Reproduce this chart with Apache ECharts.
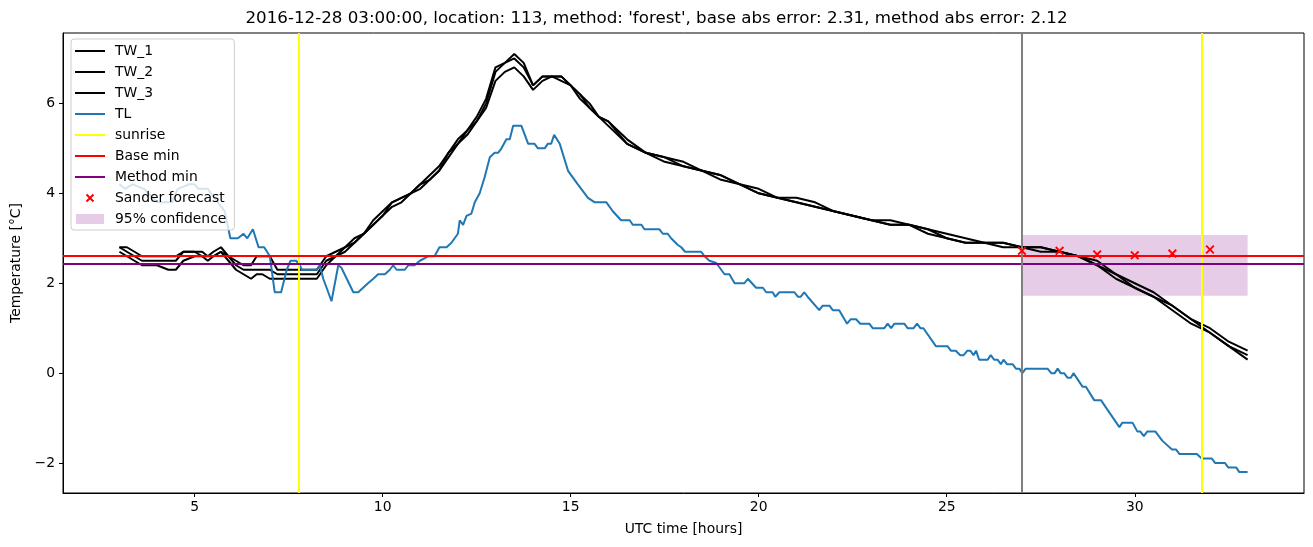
<!DOCTYPE html>
<html>
<head>
<meta charset="utf-8">
<script src="https://cdn.jsdelivr.net/npm/echarts@6/dist/echarts.min.js"></script>
<style>html,body{margin:0;padding:0;background:#fff;}#c{width:1313px;height:547px;}</style>
</head>
<body>
<div id="c"></div>
<script>
// ---- data ----
const titleText = "2016-12-28 03:00:00, location: 113, method: 'forest', base abs error: 2.31, method abs error: 2.12";
const twHours = [3.0,3.2,3.4,3.6,4.0,4.3,4.5,4.7,5.0,5.2,5.35,5.5,5.7,5.9,6.1,6.3,6.5,6.65,6.8,7.0,7.2,7.5,8.0,8.25,8.5,8.75,9.0,9.25,9.5,9.75,10.0,10.25,10.5,10.75,11.0,11.25,11.5,11.75,12.0,12.25,12.5,12.75,13.0,13.25,13.5,13.75,14.0,14.25,14.5,14.75,15.0,15.25,15.5,15.75,16.0,16.5,17.0,17.5,18.0,18.5,19.0,19.5,20.0,20.5,21.0,21.5,22.0,22.5,23.0,23.5,24.0,24.5,25.0,25.5,26.0,26.5,27.0,27.5,28.0,28.5,29.0,29.5,30.0,30.5,31.0,31.5,32.0,32.5,33.0];
const tw1 = [2.8,2.8,2.7,2.6,2.6,2.6,2.6,2.7,2.7,2.7,2.6,2.7,2.8,2.6,2.5,2.4,2.4,2.6,2.6,2.6,2.3,2.3,2.3,2.3,2.6,2.7,2.8,3.0,3.1,3.4,3.6,3.8,3.9,4.0,4.2,4.4,4.6,4.9,5.2,5.4,5.7,6.1,6.8,6.9,7.1,6.9,6.4,6.6,6.6,6.6,6.4,6.2,6.0,5.7,5.6,5.2,4.9,4.8,4.7,4.5,4.4,4.2,4.1,3.9,3.9,3.8,3.6,3.5,3.4,3.4,3.3,3.2,3.1,3.0,2.9,2.9,2.8,2.8,2.7,2.6,2.5,2.2,2.0,1.8,1.5,1.2,1.0,0.7,0.5];
const tw2 = [2.8,2.7,2.6,2.5,2.5,2.5,2.5,2.7,2.7,2.6,2.5,2.6,2.7,2.6,2.4,2.3,2.3,2.3,2.3,2.3,2.2,2.2,2.2,2.2,2.5,2.6,2.8,2.9,3.1,3.3,3.5,3.8,3.9,4.0,4.2,4.3,4.5,4.9,5.1,5.4,5.6,6.0,6.7,6.9,7.0,6.8,6.4,6.6,6.6,6.6,6.4,6.2,5.9,5.7,5.6,5.1,4.9,4.8,4.6,4.5,4.4,4.2,4.0,3.9,3.8,3.7,3.6,3.5,3.4,3.3,3.3,3.2,3.0,2.9,2.9,2.9,2.8,2.8,2.7,2.6,2.4,2.2,1.9,1.7,1.5,1.2,0.9,0.6,0.4];
const tw3 = [2.7,2.6,2.5,2.4,2.4,2.3,2.3,2.5,2.6,2.6,2.6,2.6,2.7,2.5,2.3,2.2,2.1,2.2,2.2,2.1,2.1,2.1,2.1,2.1,2.4,2.6,2.7,2.9,3.1,3.3,3.5,3.7,3.8,4.0,4.1,4.3,4.5,4.8,5.1,5.3,5.6,5.9,6.5,6.7,6.8,6.6,6.3,6.5,6.6,6.5,6.4,6.1,5.9,5.7,5.5,5.1,4.9,4.7,4.6,4.5,4.3,4.2,4.0,3.9,3.8,3.7,3.6,3.5,3.4,3.3,3.3,3.1,3.0,2.9,2.9,2.8,2.8,2.7,2.7,2.6,2.4,2.1,1.9,1.7,1.4,1.1,0.9,0.6,0.3];
const tlHours = [3.0,3.15,3.35,3.65,4.0,4.1,4.4,4.55,4.85,5.0,5.1,5.35,5.8,5.95,6.15,6.3,6.4,6.55,6.7,6.85,7.0,7.13,7.3,7.45,7.55,7.7,7.8,7.85,8.24,8.33,8.42,8.51,8.64,8.82,8.9,9.22,9.35,9.48,9.61,9.75,9.88,10.06,10.19,10.28,10.37,10.59,10.68,10.85,10.99,11.21,11.38,11.51,11.7,11.83,12.0,12.05,12.14,12.23,12.36,12.45,12.58,12.71,12.85,12.98,13.07,13.16,13.29,13.38,13.47,13.69,13.87,14.04,14.13,14.31,14.39,14.48,14.56,14.71,14.93,15.19,15.46,15.64,15.95,16.12,16.34,16.57,16.65,16.88,16.96,17.36,17.45,17.58,17.67,17.85,17.94,18.04,18.47,18.56,18.69,18.87,18.96,19.09,19.22,19.36,19.62,19.71,19.93,20.11,20.2,20.37,20.44,20.55,20.95,21.04,21.12,21.21,21.3,21.35,21.61,21.7,21.88,21.97,22.14,22.35,22.45,22.59,22.7,22.94,23.03,23.34,23.43,23.52,23.61,23.87,23.96,24.12,24.21,24.3,24.38,24.71,25.02,25.11,25.24,25.36,25.45,25.55,25.63,25.71,25.78,25.86,26.09,26.17,26.26,26.35,26.44,26.51,26.6,26.75,26.84,26.93,27.01,27.1,27.68,27.78,27.87,27.95,28.03,28.12,28.21,28.3,28.37,28.61,28.7,28.92,29.1,29.59,29.67,29.94,30.07,30.15,30.24,30.33,30.55,30.73,30.86,30.99,31.1,31.19,31.65,31.78,32.05,32.14,32.4,32.49,32.7,32.78,33.0];
const tlValues = [4.2,4.1,4.2,4.1,3.8,3.8,3.8,4.1,4.2,4.2,4.1,4.1,3.6,3.0,3.0,3.1,3.0,3.2,2.8,2.8,2.6,1.8,1.8,2.3,2.5,2.5,2.4,2.3,2.3,2.4,2.1,1.9,1.6,2.4,2.35,1.8,1.8,1.9,2.0,2.1,2.2,2.2,2.3,2.4,2.3,2.3,2.4,2.4,2.5,2.6,2.6,2.8,2.8,2.9,3.1,3.4,3.3,3.5,3.55,3.8,4.0,4.35,4.8,4.9,4.9,5.0,5.2,5.2,5.5,5.5,5.1,5.1,5.0,5.0,5.1,5.1,5.3,5.1,4.5,4.2,3.9,3.8,3.8,3.6,3.4,3.4,3.3,3.3,3.2,3.2,3.1,3.1,3.0,2.85,2.8,2.7,2.7,2.6,2.5,2.45,2.35,2.2,2.2,2.0,2.0,2.1,1.9,1.9,1.8,1.8,1.7,1.8,1.8,1.7,1.7,1.8,1.7,1.7,1.4,1.5,1.5,1.4,1.4,1.1,1.2,1.2,1.1,1.1,1.0,1.0,1.1,1.0,1.1,1.1,1.0,1.0,1.1,1.0,1.0,0.6,0.6,0.5,0.5,0.4,0.4,0.5,0.5,0.4,0.5,0.3,0.3,0.4,0.3,0.3,0.2,0.3,0.2,0.2,0.1,0.1,0.0,0.1,0.1,0.0,0.0,0.1,0.0,0.0,-0.1,-0.1,0.0,-0.3,-0.3,-0.6,-0.6,-1.2,-1.1,-1.1,-1.3,-1.3,-1.4,-1.3,-1.3,-1.5,-1.6,-1.7,-1.7,-1.8,-1.8,-1.9,-1.9,-2.0,-2.0,-2.1,-2.1,-2.2,-2.2];
const sunriseHours = [7.77, 31.77];
const forecastStart = 27.0;
const baseMin = 2.62;
const methodMin = 2.43;
const sanderHours = [27, 28, 29, 30, 31, 32];
const sanderValues = [2.72, 2.72, 2.64, 2.62, 2.66, 2.75];
const confHours = [27, 33];
const confLow = 1.72, confHigh = 3.07;
const xTicks = [5, 10, 15, 20, 25, 30];
const yTicks = [-2, 0, 2, 4, 6];
const xRange = [1.5, 34.5];
const yRange = [-2.665, 7.565];

// ---- chart ----
const zip = (xs, ys) => xs.map((x, i) => [x, ys[i]]);
const FONT = 'DejaVu Sans';
const corner = 'M0,0L0.01,0L0,0.01ZM30,14L29.99,14L30,13.99Z';
const lineIcon = 'path://' + corner + 'M0,6L30,6L30,8L0,8Z';
const rectIcon = 'path://' + corner + 'M1,2L29,2L29,12L1,12Z';
const xIcon = 'path://' + corner + 'M10.8,4.2L12.2,2.8L15,5.6L17.8,2.8L19.2,4.2L16.4,7L19.2,9.8L17.8,11.2L15,8.4L12.2,11.2L10.8,9.8L13.6,7Z';
const xSymbol = 'path://M0,1.5L1.5,0L5,3.5L8.5,0L10,1.5L6.5,5L10,8.5L8.5,10L5,6.5L1.5,10L0,8.5L3.5,5Z';

function lineSeries(name, data, color, z) {
  return {name, type: 'line', data, symbol: 'none', color, z: z || 3,
    lineStyle: {color, width: 2}, animation: false, silent: true, clip: true};
}

const chart = echarts.init(document.getElementById('c'), null, {renderer: 'canvas'});
chart.setOption({
  animation: false,
  backgroundColor: '#fff',
  textStyle: {fontFamily: FONT},
  title: {
    text: titleText, left: 'center', top: 8, padding: [2, 0, 2, 54],
    textStyle: {fontFamily: FONT, fontSize: 16.7, fontWeight: 'normal', color: '#000'}
  },
  grid: {left: 63, right: 9, top: 33, bottom: 54, show: true, borderColor: '#000', borderWidth: 1, backgroundColor: 'transparent'},
  legend: {
    orient: 'vertical', left: 71, top: 39, padding: [5, 8, 4, 4],
    itemWidth: 30, itemHeight: 14, itemGap: 7,
    backgroundColor: 'rgba(255,255,255,0.8)', borderColor: '#cccccc', borderWidth: 1, borderRadius: 3,
    textStyle: {fontFamily: FONT, fontSize: 13.9, color: '#000', lineHeight: 14, padding: [0, 0, 0, 5]},
    selectedMode: false,
    data: [
      {name: 'TW_1', icon: lineIcon},
      {name: 'TW_2', icon: lineIcon},
      {name: 'TW_3', icon: lineIcon},
      {name: 'TL', icon: lineIcon},
      {name: 'sunrise', icon: lineIcon},
      {name: 'Base min', icon: lineIcon},
      {name: 'Method min', icon: lineIcon},
      {name: 'Sander forecast', icon: xIcon},
      {name: '95% confidence', icon: rectIcon}
    ],
    z: 20
  },
  xAxis: {
    type: 'value', min: xRange[0], max: xRange[1],
    name: 'UTC time [hours]', nameLocation: 'middle', nameGap: 29,
    nameTextStyle: {fontFamily: FONT, fontSize: 13.9, color: '#000'},
    axisLine: {show: true, onZero: false, lineStyle: {color: '#000', width: 1}},
    axisTick: {show: true, length: 4, inside: false, customValues: xTicks, lineStyle: {color: '#000'}},
    axisLabel: {customValues: xTicks, margin: 7, fontFamily: FONT, fontSize: 13.9, color: '#000'},
    splitLine: {show: false}
  },
  yAxis: {
    type: 'value', min: yRange[0], max: yRange[1],
    name: 'Temperature [°C]', nameLocation: 'middle', nameGap: 40, nameRotate: 90,
    nameTextStyle: {fontFamily: FONT, fontSize: 13.9, color: '#000'},
    axisLine: {show: true, onZero: false, lineStyle: {color: '#000', width: 1}},
    axisTick: {show: true, length: 4, customValues: yTicks, lineStyle: {color: '#000'}},
    axisLabel: {customValues: yTicks, margin: 8, fontFamily: FONT, fontSize: 13.9, color: '#000',
      formatter: v => String(v).replace('-', '\u2212')},
    splitLine: {show: false}
  },
  series: [
    {name: '95% confidence', type: 'line', data: [], symbol: 'none', color: 'rgba(128,0,128,0.2)', z: 1,
      markArea: {silent: true, itemStyle: {color: 'rgba(128,0,128,0.2)'},
        data: [[{xAxis: confHours[0], yAxis: confLow}, {xAxis: confHours[1], yAxis: confHigh}]]}},
    lineSeries('TW_1', zip(twHours, tw1), '#000000'),
    lineSeries('TW_2', zip(twHours, tw2), '#000000'),
    lineSeries('TW_3', zip(twHours, tw3), '#000000'),
    lineSeries('TL', zip(tlHours, tlValues), '#1f77b4'),
    {name: 'sunrise', type: 'line', data: [], symbol: 'none', color: '#ffff00', z: 4,
      markLine: {silent: true, symbol: 'none', label: {show: false}, animation: false,
        lineStyle: {color: '#ffff00', width: 2, type: 'solid'},
        data: sunriseHours.map(h => ({xAxis: h}))}},
    {name: 'Base min', type: 'line', data: [], symbol: 'none', color: '#ff0000', z: 4,
      markLine: {silent: true, symbol: 'none', label: {show: false}, animation: false,
        lineStyle: {color: '#ff0000', width: 2, type: 'solid'}, data: [{yAxis: baseMin}]}},
    {name: 'Method min', type: 'line', data: [], symbol: 'none', color: '#800080', z: 4,
      markLine: {silent: true, symbol: 'none', label: {show: false}, animation: false,
        lineStyle: {color: '#800080', width: 2, type: 'solid'}, data: [{yAxis: methodMin}]}},
    {name: 'now', type: 'line', data: [], symbol: 'none', color: '#808080', z: 4,
      markLine: {silent: true, symbol: 'none', label: {show: false}, animation: false,
        lineStyle: {color: '#808080', width: 2, type: 'solid'}, data: [{xAxis: forecastStart}]}},
    {name: 'Sander forecast', type: 'scatter', data: zip(sanderHours, sanderValues), symbol: xSymbol,
      symbolSize: 9, color: '#ff0000', itemStyle: {color: '#ff0000', opacity: 1}, z: 5, silent: true}
  ]
});
</script>
</body>
</html>
